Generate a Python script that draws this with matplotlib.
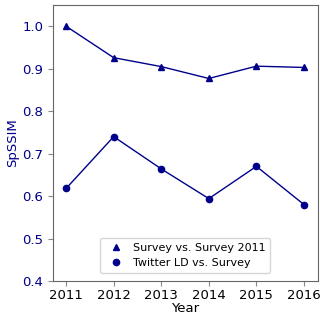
import matplotlib
matplotlib.use("Agg")
import matplotlib.pyplot as plt
from matplotlib.lines import Line2D

years = [2011, 2012, 2013, 2014, 2015, 2016]
survey_vs_2011 = [1.0, 0.926, 0.905, 0.877, 0.906, 0.903]
twitter_vs_survey = [0.618, 0.740, 0.664, 0.594, 0.670, 0.580]
labels = ["Survey vs. Survey 2011", "Twitter LD vs. Survey"]
markers = ["^", "o"]

color = "darkblue"

fig, ax = plt.subplots(figsize=(3.2, 3.15), dpi=100)
for vals, m in zip([survey_vs_2011, twitter_vs_survey], markers):
    ax.plot(years, vals, color=color, marker=m, markersize=4.5, lw=1)

ax.set_ylim(0.4, 1.05)
ax.set_xlim(2010.72, 2016.29)
ax.set_xticks(years)
ax.set_yticks([0.4, 0.5, 0.6, 0.7, 0.8, 0.9, 1.0])
ax.tick_params(axis="y", colors="#888888", labelcolor=color, labelsize=9.5)
ax.tick_params(axis="x", colors="#888888", labelcolor="black", labelsize=9.5,
               pad=2)
for s in ax.spines.values():
    s.set_color("#666666")
ax.set_xlabel("Year", fontsize=9.5, labelpad=0)
ax.set_ylabel("SpSSIM", fontsize=9.5, color=color, labelpad=2)

handles = [Line2D([], [], color=color, marker=m, linestyle="none", markersize=4.5)
           for m in markers]
ax.legend(handles, labels, loc="lower center", fontsize=8,
          bbox_to_anchor=(0.5, 0.01), handletextpad=0.6)

fig.subplots_adjust(left=0.165, right=0.993, top=0.984, bottom=0.108)
fig.savefig("out.png")
